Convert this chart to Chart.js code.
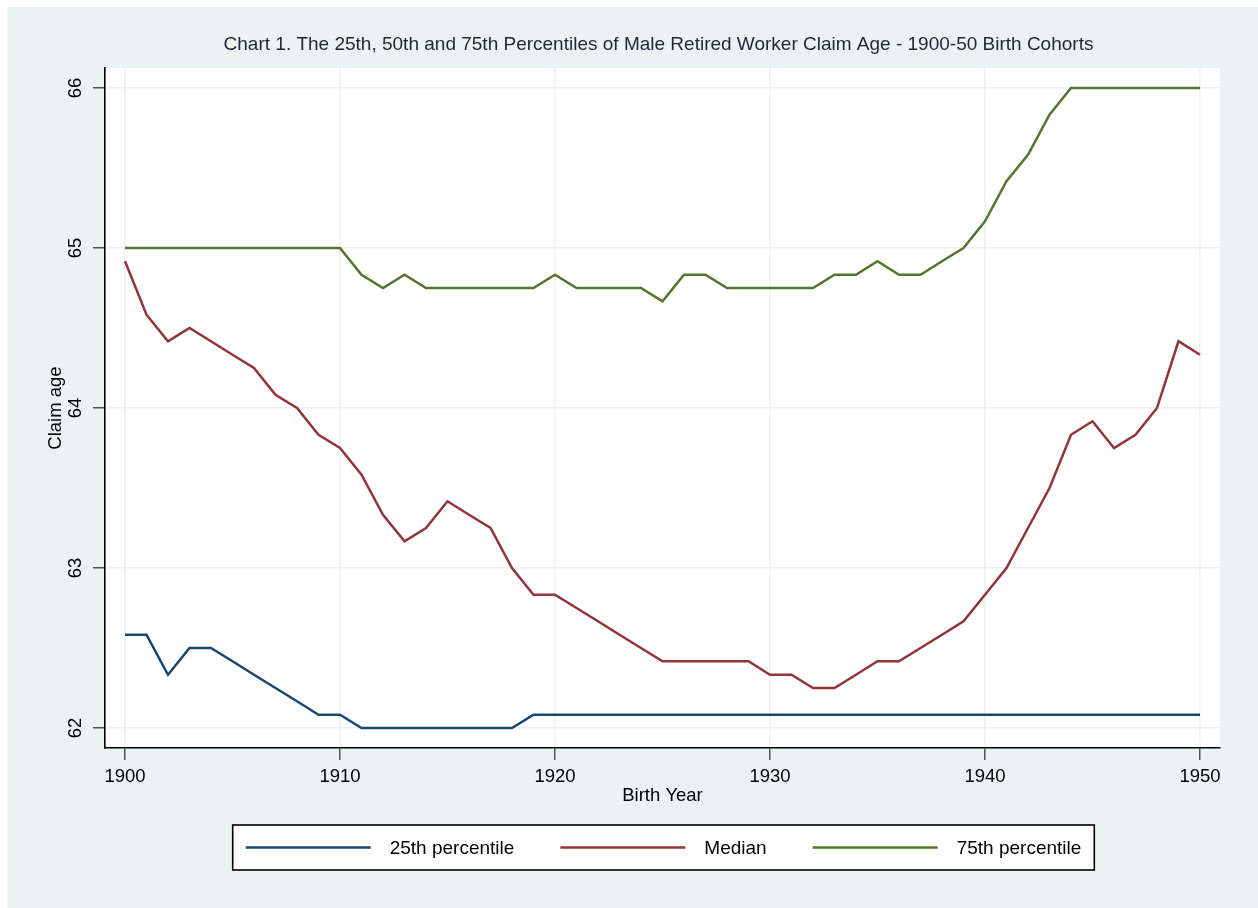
<!DOCTYPE html>
<html>
<head>
<meta charset="utf-8">
<script src="https://cdn.jsdelivr.net/npm/chart.js@4/dist/chart.umd.min.js"></script>
<style>
  html, body { margin: 0; padding: 0; background: #ffffff; }
  canvas { display: block; }
</style>
</head>
<body>
<canvas id="c" width="1258" height="908"></canvas>
<script>
const titleText = "Chart 1. The 25th, 50th and 75th Percentiles of Male Retired Worker Claim Age - 1900-50 Birth Cohorts";
const xTitle = "Birth Year";
const yTitle = "Claim age";

const years = [1900,1901,1902,1903,1904,1905,1906,1907,1908,1909,
               1910,1911,1912,1913,1914,1915,1916,1917,1918,1919,
               1920,1921,1922,1923,1924,1925,1926,1927,1928,1929,
               1930,1931,1932,1933,1934,1935,1936,1937,1938,1939,
               1940,1941,1942,1943,1944,1945,1946,1947,1948,1949,1950];

const p25 = [62.583,62.583,62.333,62.5,62.5,62.417,62.333,62.25,62.167,62.083,
             62.083,62.0,62.0,62.0,62.0,62.0,62.0,62.0,62.0,62.083,
             62.083,62.083,62.083,62.083,62.083,62.083,62.083,62.083,62.083,62.083,
             62.083,62.083,62.083,62.083,62.083,62.083,62.083,62.083,62.083,62.083,
             62.083,62.083,62.083,62.083,62.083,62.083,62.083,62.083,62.083,62.083,62.083];

const median = [64.917,64.583,64.417,64.5,64.417,64.333,64.25,64.083,64.0,63.833,
                63.75,63.583,63.333,63.167,63.25,63.417,63.333,63.25,63.0,62.833,
                62.833,62.75,62.667,62.583,62.5,62.417,62.417,62.417,62.417,62.417,
                62.333,62.333,62.25,62.25,62.333,62.417,62.417,62.5,62.583,62.667,
                62.833,63.0,63.25,63.5,63.833,63.917,63.75,63.833,64.0,64.417,64.333];

const p75 = [65,65,65,65,65,65,65,65,65,65,
             65,64.833,64.75,64.833,64.75,64.75,64.75,64.75,64.75,64.75,
             64.833,64.75,64.75,64.75,64.75,64.667,64.833,64.833,64.75,64.75,
             64.75,64.75,64.75,64.833,64.833,64.917,64.833,64.833,64.917,65.0,
             65.167,65.417,65.583,65.833,66,66,66,66,66,66,66];

const xTicks = [1900,1910,1920,1930,1940,1950];
const yTicks = [62,63,64,65,66];
const seriesLabels = ["25th percentile","Median","75th percentile"];
const seriesColors = ["#1A476F","#90353B","#55752F"];

const BG = "#EAF2F3";
const FONT = "'Liberation Sans', Arial, sans-serif";

const bgPlugin = {
  id: 'bg',
  beforeDraw(chart) {
    const ctx = chart.ctx, a = chart.chartArea;
    ctx.save();
    ctx.fillStyle = '#ffffff';
    ctx.fillRect(0, 0, chart.width, chart.height);
    ctx.fillStyle = BG;
    ctx.fillRect(7, 7, chart.width - 7, chart.height - 7);
    ctx.fillStyle = '#ffffff';
    ctx.fillRect(a.left, a.top, a.right - a.left, a.bottom - a.top);
    ctx.restore();
  }
};

const decorPlugin = {
  id: 'decor',
  afterDraw(chart) {
    const ctx = chart.ctx, a = chart.chartArea;
    const ys = chart.scales.y;
    ctx.save();
    // title
    ctx.fillStyle = '#1f2636';
    ctx.font = "19px " + FONT;
    ctx.textAlign = 'center';
    ctx.textBaseline = 'middle';
    ctx.fillText(titleText, (a.left + a.right) / 2 - 4, 45);
    // rotated y tick labels
    ctx.fillStyle = '#000000';
    ctx.font = "18.5px " + FONT;
    yTicks.forEach(v => {
      const py = ys.getPixelForValue(v);
      ctx.save();
      ctx.translate(76, py);
      ctx.rotate(-Math.PI / 2);
      ctx.textAlign = 'center';
      ctx.textBaseline = 'middle';
      ctx.fillText(String(v), 0, 0);
      ctx.restore();
    });
    // legend
    ctx.font = "19px " + FONT;
    const sample = 125, gap1 = 19, gap2 = 46, margin = 13;
    const widths = seriesLabels.map(t => ctx.measureText(t).width);
    let total = 0;
    widths.forEach((w, i) => { total += sample + gap1 + w + (i < widths.length - 1 ? gap2 : 0); });
    const cx = (a.left + a.right) / 2 + 1;
    const boxL = cx - total / 2 - margin, boxW = total + 2 * margin;
    const boxT = 825, boxH = 45;
    ctx.fillStyle = '#ffffff';
    ctx.fillRect(boxL, boxT, boxW, boxH);
    ctx.strokeStyle = '#000000';
    ctx.lineWidth = 1.6;
    ctx.strokeRect(boxL, boxT, boxW, boxH);
    let x = cx - total / 2;
    const my = boxT + boxH / 2;
    chart.data.datasets.forEach((ds, i) => {
      ctx.strokeStyle = ds.borderColor;
      ctx.lineWidth = 2.5;
      ctx.beginPath();
      ctx.moveTo(x, my);
      ctx.lineTo(x + sample, my);
      ctx.stroke();
      x += sample + gap1;
      ctx.fillStyle = '#000000';
      ctx.textAlign = 'left';
      ctx.textBaseline = 'middle';
      ctx.fillText(ds.label, x, my + 1);
      x += widths[i] + gap2;
    });
    ctx.restore();
  }
};

const mk = (arr) => years.map((y, i) => ({x: y, y: arr[i]}));

new Chart(document.getElementById('c'), {
  type: 'line',
  data: {
    datasets: [
      {label: seriesLabels[0], data: mk(p25), borderColor: seriesColors[0]},
      {label: seriesLabels[1], data: mk(median), borderColor: seriesColors[1]},
      {label: seriesLabels[2], data: mk(p75), borderColor: seriesColors[2]}
    ].map(d => Object.assign(d, {borderWidth: 2.5, pointRadius: 0, tension: 0, fill: false}))
  },
  options: {
    responsive: false,
    animation: false,
    layout: {padding: {left: 0, right: 38, top: 68, bottom: 0}},
    plugins: {legend: {display: false}, title: {display: false}, tooltip: {enabled: false}},
    scales: {
      x: {
        type: 'linear',
        min: 1900 - 20 / 21.5,
        max: 1950 + 20 / 21.5,
        afterBuildTicks(s) { s.ticks = xTicks.map(v => ({value: v})); },
        afterFit(s) { s.height = 160; },
        grid: {color: BG, lineWidth: 1.5, tickColor: '#555555', tickLength: 12, tickWidth: 1.5},
        border: {display: true, color: '#000000', width: 1.6},
        ticks: {color: '#000000', font: {family: FONT, size: 18.5}, padding: 6, maxRotation: 0,
                callback: v => String(v)},
        title: {display: true, text: xTitle, color: '#000000', font: {family: FONT, size: 18.5},
                padding: {top: 0, bottom: 101}}
      },
      y: {
        type: 'linear',
        min: 61.875,
        max: 66.125,
        afterBuildTicks(s) { s.ticks = yTicks.map(v => ({value: v})); },
        afterFit(s) { s.width = 105; },
        grid: {color: BG, lineWidth: 1.5, tickColor: '#555555', tickLength: 12, tickWidth: 1.5},
        border: {display: true, color: '#000000', width: 1.6},
        ticks: {display: false},
        title: {display: true, text: yTitle, color: '#000000', font: {family: FONT, size: 18.5},
                padding: {top: 45, bottom: 0}}
      }
    }
  },
  plugins: [bgPlugin, decorPlugin]
});
</script>
</body>
</html>
